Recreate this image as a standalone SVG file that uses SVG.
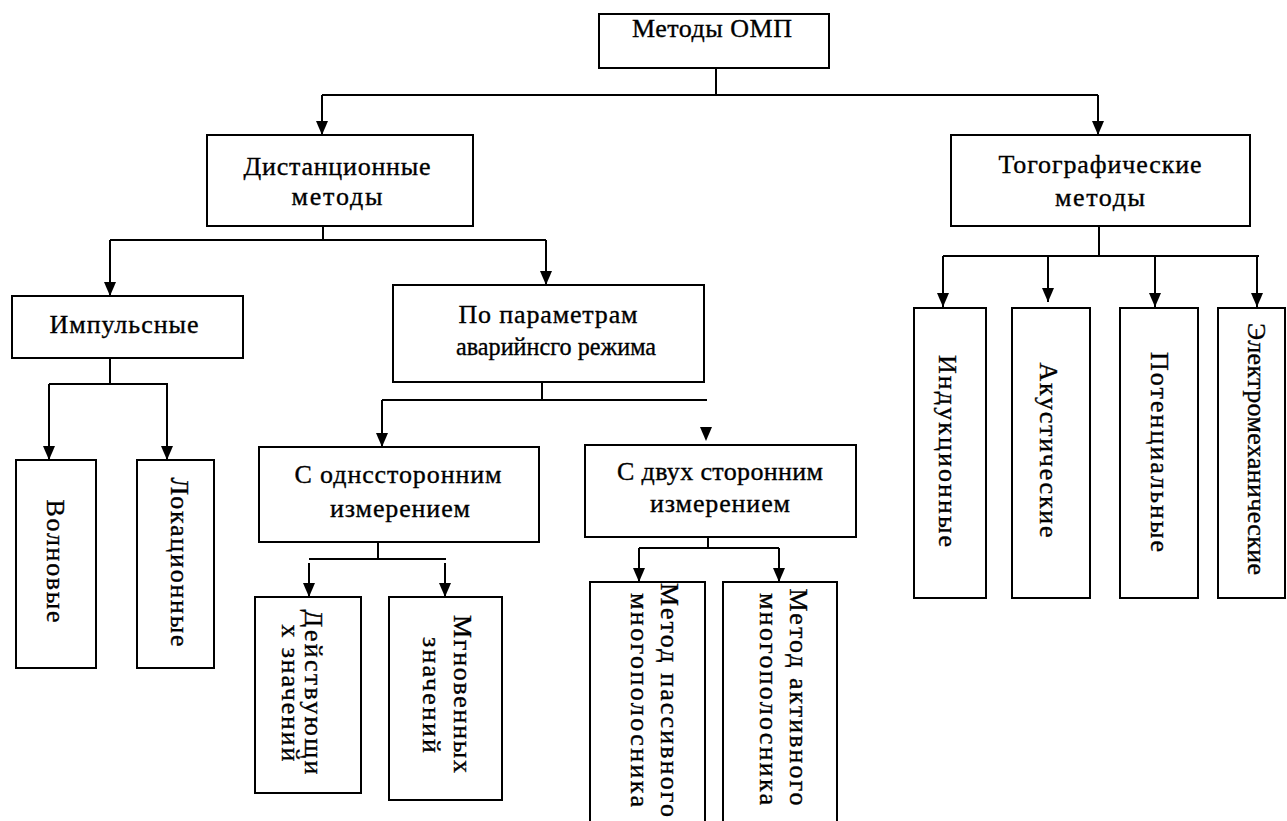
<svg xmlns="http://www.w3.org/2000/svg" width="1287" height="821" viewBox="0 0 1287 821">
<style>
  .box{fill:#fff;stroke:#000;stroke-width:2}
  .t{font-family:"Liberation Serif","DejaVu Serif",serif;font-size:26px;fill:#000;stroke:#000;stroke-width:0.35;text-anchor:middle}
  .c{fill:none;stroke:#000;stroke-width:2}
  .a{fill:none;stroke:#000;stroke-width:2;marker-end:url(#arr)}
</style>
<defs>
  <marker id="arr" markerUnits="userSpaceOnUse" markerWidth="16" markerHeight="14" refX="14" refY="7" orient="auto" viewBox="0 0 16 14">
    <path d="M0,1 L14,7 L0,13 Z" fill="#000"/>
  </marker>
</defs>
<rect width="1287" height="821" fill="#fff"/>

<g id="connectors">
  <path class="c" d="M716,68 V95 M322,95 H1098"/>
  <path class="a" d="M322,95 V135"/>
  <path class="a" d="M1098,95 V135"/>
  <path class="c" d="M323,226 V240 M110,240 H546"/>
  <path class="a" d="M110,240 V296"/>
  <path class="a" d="M546,240 V285"/>
  <path class="c" d="M110,358 V384 M49,384 H168"/>
  <path class="a" d="M49,384 V460"/>
  <path class="a" d="M167,384 V460"/>
  <path class="c" d="M542,382 V400 M382,400 H707"/>
  <path class="a" d="M382,400 V447"/>
  <polygon points="700,427 712,427 706,441" fill="#000"/>
  <path class="c" d="M378,542 V559 M309,559 H446"/>
  <path class="a" d="M309,563 V597"/>
  <path class="a" d="M445,563 V597"/>
  <path class="c" d="M708,537 V548 M639,548 H779"/>
  <path class="a" d="M639,548 V582"/>
  <path class="a" d="M779,548 V582"/>
  <path class="c" d="M1099,226 V256 M943,256 H1259"/>
  <path class="a" d="M943,256 V307"/>
  <path class="a" d="M1048,256 V302"/>
  <path class="a" d="M1155,256 V307"/>
  <path class="a" d="M1257,256 V307"/>
</g>

<g id="n-omp">
  <rect class="box" x="599" y="14" width="230" height="54"/>
  <text class="t" x="712" y="37" textLength="160" lengthAdjust="spacing">Методы ОМП</text>
</g>
<g id="n-dist">
  <rect class="box" x="207" y="135" width="266" height="91"/>
  <text class="t" x="337" y="175" textLength="187" lengthAdjust="spacing">Дистанционные</text>
  <text class="t" x="337" y="205" textLength="91" lengthAdjust="spacing">методы</text>
</g>
<g id="n-topo">
  <rect class="box" x="951" y="135" width="299" height="91"/>
  <text class="t" x="1100" y="173" textLength="203" lengthAdjust="spacing">Тогографические</text>
  <text class="t" x="1100" y="206" textLength="90" lengthAdjust="spacing">методы</text>
</g>
<g id="n-imp">
  <rect class="box" x="12" y="296" width="231" height="62"/>
  <text class="t" x="124" y="333" textLength="149" lengthAdjust="spacing">Импульсные</text>
</g>
<g id="n-param">
  <rect class="box" x="393" y="285" width="311" height="97"/>
  <text class="t" x="548" y="323" textLength="179" lengthAdjust="spacing">По параметрам</text>
  <text class="t" x="556" y="355" textLength="200" lengthAdjust="spacingAndGlyphs">аварийнсго режима</text>
</g>
<g id="n-one">
  <rect class="box" x="259" y="447" width="280" height="95"/>
  <text class="t" x="398" y="483" textLength="207" lengthAdjust="spacing">С однссторонним</text>
  <text class="t" x="400" y="517" textLength="140" lengthAdjust="spacing">измерением</text>
</g>
<g id="n-two">
  <rect class="box" x="585" y="445" width="271" height="92"/>
  <text class="t" x="720" y="480" textLength="206" lengthAdjust="spacing">С двух сторонним</text>
  <text class="t" x="720" y="512" textLength="140" lengthAdjust="spacing">измерением</text>
</g>
<g id="n-wave">
  <rect class="box" x="16" y="460" width="80" height="208"/>
  <text class="t" transform="translate(47,561) rotate(90)" textLength="123" lengthAdjust="spacing">Волновые</text>
</g>
<g id="n-loc">
  <rect class="box" x="137" y="460" width="77" height="208"/>
  <text class="t" transform="translate(171,562) rotate(90)" textLength="169" lengthAdjust="spacing">Локационные</text>
</g>
<g id="n-rms">
  <rect class="box" x="255" y="597" width="106" height="196"/>
  <text class="t" transform="translate(305,692) rotate(90)" textLength="165" lengthAdjust="spacing">Действующи</text>
  <text class="t" transform="translate(282,693) rotate(90)" textLength="137" lengthAdjust="spacing">х значений</text>
</g>
<g id="n-inst">
  <rect class="box" x="389" y="597" width="113" height="203"/>
  <text class="t" transform="translate(454,694) rotate(90)" textLength="158" lengthAdjust="spacing">Мгновенных</text>
  <text class="t" transform="translate(423,695) rotate(90)" textLength="116" lengthAdjust="spacing">значений</text>
</g>
<g id="n-passive">
  <rect class="box" x="590" y="582" width="115" height="250"/>
  <text class="t" transform="translate(661,700) rotate(90)" textLength="234" lengthAdjust="spacing">Метод пассивного</text>
  <text class="t" transform="translate(631,700) rotate(90)" textLength="214" lengthAdjust="spacing">многополосника</text>
</g>
<g id="n-active">
  <rect class="box" x="723" y="582" width="114" height="250"/>
  <text class="t" transform="translate(790,697) rotate(90)" textLength="217" lengthAdjust="spacing">Метод активного</text>
  <text class="t" transform="translate(760,699) rotate(90)" textLength="212" lengthAdjust="spacing">многополосника</text>
</g>
<g id="n-ind">
  <rect class="box" x="914" y="308" width="72" height="290"/>
  <text class="t" transform="translate(939,451) rotate(90)" textLength="192" lengthAdjust="spacing">Индукционные</text>
</g>
<g id="n-ac">
  <rect class="box" x="1012" y="308" width="78" height="290"/>
  <text class="t" transform="translate(1040,450) rotate(90)" textLength="175" lengthAdjust="spacing">Акустические</text>
</g>
<g id="n-pot">
  <rect class="box" x="1120" y="308" width="78" height="290"/>
  <text class="t" transform="translate(1151,452) rotate(90)" textLength="200" lengthAdjust="spacing">Потенциальные</text>
</g>
<g id="n-em">
  <rect class="box" x="1218" y="308" width="67" height="290"/>
  <text class="t" transform="translate(1248,449) rotate(90)" textLength="252" lengthAdjust="spacing">Электромеханические</text>
</g>
</svg>
